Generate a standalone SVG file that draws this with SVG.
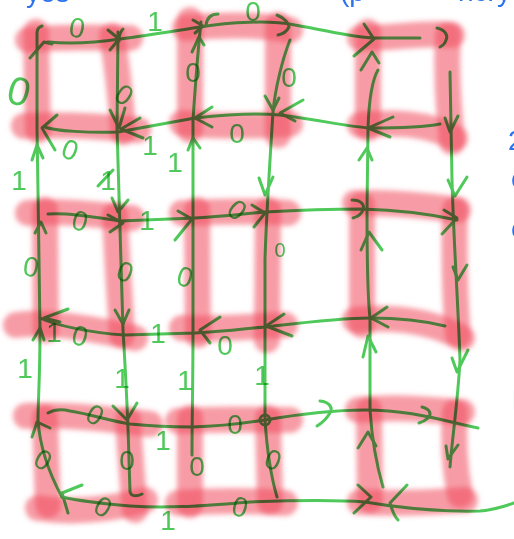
<svg xmlns="http://www.w3.org/2000/svg" width="514" height="539" viewBox="0 0 514 539">
<defs>
<filter id="blur" x="-20%" y="-20%" width="140%" height="140%"><feGaussianBlur stdDeviation="2.5"/></filter>
</defs>
<style>
.sq path{fill:none;stroke:#f04a5c;stroke-opacity:0.55;stroke-width:26;stroke-linecap:round}
.sq{filter:url(#blur)}
.ink{mix-blend-mode:multiply}
.ink path,.ink circle{fill:none;stroke:#4fc95a;stroke-width:3;stroke-linecap:round;stroke-linejoin:round}
.lbl{font-family:"Liberation Sans",Arial,sans-serif;font-size:28px;fill:#4fc95a;text-anchor:middle;dominant-baseline:central}
.blue{font-family:"Liberation Sans",Arial,sans-serif;font-size:28px;fill:#2a72f0}
</style>
<rect width="514" height="539" fill="#ffffff"/>

<g id="sq11" class="sq"><path d="M28,40 C60,36 100,38 130,38"/><path d="M36,32 L38,130"/><path d="M112,36 C118,70 121,100 123,132"/><path d="M24,126 C60,124 100,126 138,130"/></g>
<g id="sq12" class="sq"><path d="M185,28 C220,25 260,24 290,30"/><path d="M190,20 L190,130"/><path d="M278,25 L278,135"/><path d="M182,123 C220,127 260,126 290,124"/></g>
<g id="sq13" class="sq"><path d="M360,38 C395,38 425,32 452,35"/><path d="M368,32 L368,128"/><path d="M448,35 C446,70 448,100 452,142"/><path d="M360,125 C395,122 425,122 455,138"/></g>
<g id="sq21" class="sq"><path d="M28,213 C60,210 100,215 132,218"/><path d="M45,210 L46,330"/><path d="M115,215 C117,260 120,300 122,335"/><path d="M16,325 C50,320 100,330 135,338"/></g>
<g id="sq22" class="sq"><path d="M182,213 C220,212 255,210 288,213"/><path d="M197,210 L198,335"/><path d="M268,210 L267,340"/><path d="M182,328 C220,330 250,326 285,325"/></g>
<g id="sq23" class="sq"><path d="M355,203 C390,202 420,205 458,210"/><path d="M362,205 L362,325"/><path d="M455,210 C454,250 455,300 458,335"/><path d="M355,320 C395,316 430,320 462,338"/></g>
<g id="sq31" class="sq"><path d="M26,416 C60,414 100,418 150,424"/><path d="M45,418 L48,505"/><path d="M128,420 C130,450 132,480 135,510"/><path d="M38,508 C70,513 110,510 145,500"/></g>
<g id="sq32" class="sq"><path d="M178,421 C220,418 255,420 290,420"/><path d="M190,418 L190,505"/><path d="M268,418 L270,502"/><path d="M178,503 C220,500 250,500 285,503"/></g>
<g id="sq33" class="sq"><path d="M358,410 C400,406 430,410 462,412"/><path d="M369,410 L370,500"/><path d="M455,412 C453,440 455,470 460,495"/><path d="M360,502 C400,504 430,502 465,500"/></g>

<g id="connectors" class="ink">
<path d="M48,42 C70,44 100,42 120,39 C150,35 180,30 200,27 C230,22 270,20 295,25 C330,31 355,38 375,38 L420,38"/>
<path d="M45,127 C55,131 90,133 118,132 L195,118 C230,114 260,113 280,115 C320,120 350,127 370,128 C400,128 425,127 440,124"/>
<path d="M48,214 C70,212 100,218 120,221 L195,218 C230,216 250,213 265,212 C300,210 330,209 362,209 C400,210 430,214 457,220"/>
<path d="M40,318 C55,325 90,333 125,335 L195,333 C230,331 250,328 265,327 C300,323 340,318 370,318 C400,318 425,321 445,326"/>
<path d="M48,413 C55,409 62,409 70,411 C90,414 110,421 130,424 C160,427 180,427 192,427 C230,426 250,422 265,420 C300,414 340,410 365,410 C410,410 440,420 478,428"/>
<path d="M62,497 C75,500 95,503 130,506 C170,509 210,505 250,502 C300,500 340,500 365,502 C400,508 440,512 480,511 C495,510 505,506 514,503"/>
<path d="M42,26 C39,27 37,29 37,33 L37,128 C38,200 40,300 40,330 C40,380 38,400 38,420 C40,450 50,475 62,497"/>
<path d="M118,32 L117,128 C118,180 120,250 123,330 C126,380 128,420 129,460 L130,492 C131,496 136,497 142,494"/>
<path d="M201,22 C198,50 195,90 193,120 L193,330 C193,380 192,420 192,455"/>
<path d="M290,40 C282,60 275,90 273,112 C270,160 266,220 265,260 L265,420 C267,450 272,480 277,497"/>
<path d="M378,70 C372,80 369,100 368,128 L367,210 C367,260 368,300 370,318 L370,410 C372,440 378,470 383,487"/>
<path d="M450,72 L452,180 C454,250 458,300 460,360 C458,400 452,440 450,467"/>
<circle cx="265" cy="420" r="5"/>
<path d="M30,58 L44,42 L52,44"/>
<path d="M108,30 L119,39 L110,50"/>
<path d="M123,29 C120,32 119,36 119,41"/>
<path d="M193,20 L203,26 L195,33"/>
<path d="M218,14 C211,14 207,18 206,25"/>
<path d="M192,52 L199,37 L204,45"/>
<path d="M277,15 C285,18 289,24 289,27 C287,31 283,34 278,35"/>
<path d="M364,24 L374,39 L354,56"/>
<path d="M361,70 L372,52 L379,63"/>
<path d="M437,28 C446,30 448,36 446,40 C445,44 442,46 440,47"/>
<path d="M110,110 L119,128 L125,108"/>
<path d="M140,118 L121,129 L143,138"/>
<path d="M57,115 L42,128 L55,150"/>
<path d="M212,107 L195,118 L212,127"/>
<path d="M303,100 L280,113 L295,121"/>
<path d="M265,96 L273,110 L279,98"/>
<path d="M393,117 L368,128 L390,137"/>
<path d="M445,118 L450,132 L458,116"/>
<path d="M359,160 L367,148 L372,160"/>
<path d="M32,160 L37,145 L43,158"/>
<path d="M98,186 L113,170"/>
<path d="M188,150 L193,138 L200,148"/>
<path d="M259,178 L265,195 L273,177"/>
<path d="M448,180 L455,196 L467,177"/>
<path d="M112,198 L118,212 L128,200"/>
<path d="M108,215 L123,223 L110,232"/>
<path d="M178,211 L192,219 L175,240"/>
<path d="M35,233 L41,222 L46,233"/>
<path d="M252,205 L265,213 L254,227"/>
<path d="M352,200 C362,200 366,206 362,212 C360,215 357,217 353,218"/>
<path d="M444,210 L457,218 L442,234"/>
<path d="M361,250 L369,232 L382,250"/>
<path d="M453,267 L458,280 L467,265"/>
<path d="M115,310 L123,324 L129,310"/>
<path d="M68,309 L44,318 L60,322"/>
<path d="M33,340 L40,328 L44,340"/>
<path d="M220,317 L200,330 L210,343"/>
<path d="M284,314 L266,326 L292,336"/>
<path d="M387,307 L371,318 L388,327"/>
<path d="M363,357 L368,336 L376,352"/>
<path d="M452,358 L457,372 L468,350"/>
<path d="M113,406 L127,420 L137,403"/>
<path d="M32,437 L37,422 L50,428"/>
<path d="M320,401 C330,402 333,408 330,413 C327,418 322,423 317,426"/>
<path d="M422,407 C430,409 432,414 428,418 C425,421 422,422 419,423"/>
<path d="M358,448 L368,432 L376,446"/>
<path d="M446,446 L448,459 L458,445"/>
<path d="M82,485 L62,493 L68,513"/>
<path d="M358,485 L371,497 L354,513"/>
<path d="M407,485 L390,503 C392,510 394,516 398,520"/>
</g>

<g id="labels" class="ink">
<text class="lbl" x="77" y="28" transform="rotate(10 77 28)">0</text>
<text class="lbl" x="155" y="21">1</text>
<text class="lbl" x="253" y="11">0</text>
<text class="lbl" x="19" y="91" style="font-size:40px" transform="rotate(15 19 91)">0</text>
<text class="lbl" x="124" y="95" transform="rotate(35 124 95)">0</text>
<text class="lbl" x="193" y="72">0</text>
<text class="lbl" x="289" y="77">0</text>
<text class="lbl" x="70" y="150" transform="rotate(20 70 150)">0</text>
<text class="lbl" x="150" y="145">1</text>
<text class="lbl" x="237" y="133">0</text>
<text class="lbl" x="19" y="180">1</text>
<text class="lbl" x="108" y="180">1</text>
<text class="lbl" x="175" y="162">1</text>
<text class="lbl" x="80" y="221" transform="rotate(15 80 221)">0</text>
<text class="lbl" x="147" y="220">1</text>
<text class="lbl" x="237" y="210" transform="rotate(40 237 210)">0</text>
<text class="lbl" x="31" y="267" transform="rotate(10 31 267)">0</text>
<text class="lbl" x="125" y="272" transform="rotate(20 125 272)">0</text>
<text class="lbl" x="185" y="277" transform="rotate(15 185 277)">0</text>
<text class="lbl" x="280" y="250" style="font-size:20px">0</text>
<text class="lbl" x="54" y="332">1</text>
<text class="lbl" x="80" y="336" transform="rotate(15 80 336)">0</text>
<text class="lbl" x="158" y="333">1</text>
<text class="lbl" x="225" y="345">0</text>
<text class="lbl" x="25" y="368">1</text>
<text class="lbl" x="122" y="378">1</text>
<text class="lbl" x="185" y="380">1</text>
<text class="lbl" x="262" y="375">1</text>
<text class="lbl" x="95" y="415" transform="rotate(30 95 415)">0</text>
<text class="lbl" x="163" y="440">1</text>
<text class="lbl" x="235" y="424">0</text>
<text class="lbl" x="43" y="460" transform="rotate(30 43 460)">0</text>
<text class="lbl" x="127" y="460">0</text>
<text class="lbl" x="197" y="466">0</text>
<text class="lbl" x="273" y="460" transform="rotate(20 273 460)">0</text>
<text class="lbl" x="103" y="507" transform="rotate(30 103 507)">0</text>
<text class="lbl" x="168" y="520">1</text>
<text class="lbl" x="240" y="507" transform="rotate(15 240 507)">0</text>
</g>

<g id="notes">
<text class="blue" x="26" y="2">yes</text>
<text class="blue" x="340" y="1">(p</text>
<text class="blue" x="458" y="1">ncry</text>
<text class="blue" x="508" y="150">2</text>
<text class="blue" x="511" y="188">c</text>
<text class="blue" x="511" y="238">c</text>
<text class="blue" x="512" y="410" fill-opacity="0.3">l</text>
</g>
</svg>
